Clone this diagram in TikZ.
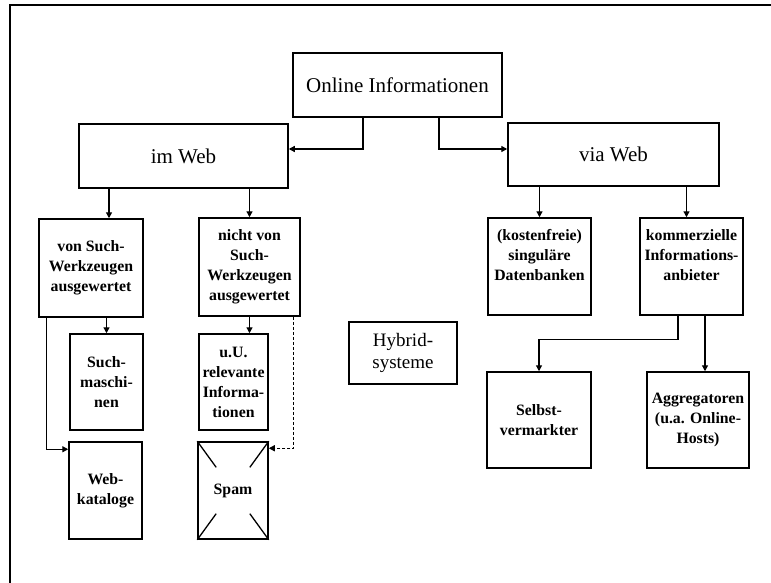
\documentclass[tikz,border=0pt]{standalone}
\usepackage{fontspec}
\setmainfont{Liberation Serif}
\usetikzlibrary{arrows.meta,calc}
\begin{document}
\begin{tikzpicture}[x=1pt,y=1pt,
  bx/.style={draw, line width=1.5pt, inner sep=0pt, align=center},
  big/.style={bx, font=\fontsize{21}{24}\selectfont},
  sm/.style={bx, font=\fontsize{15.8}{20}\selectfont\bfseries},
  arr/.style={line width=1.3pt, -{Triangle[length=6pt,width=6pt]}},
  frm/.style={line width=2pt}
]
\useasboundingbox (0,0) rectangle (771,-583);
\draw[frm] (771,-5) -- (10,-5) -- (10,-583);
% top level
\node[big, minimum width=209, minimum height=64] (oi) at (397.5,-85) {Online Informationen};
\node[big, minimum width=209, minimum height=64] (imw) at (183.5,-156) {im Web};
\node[big, minimum width=211, minimum height=63] (vw) at (613.5,-154.5) {via Web};
% second level
\node[sm, minimum width=104, minimum height=98] (vs) at (91,-268) {von Such-\\Werkzeugen\\ausgewertet};
\node[sm, minimum width=101, minimum height=98] (nv) at (249.5,-267) {nicht von\\Such-\\Werkzeugen\\ausgewertet};
\node[sm, minimum width=103, minimum height=97] (kf) at (539.5,-266.5) {(kostenfreie)\\singuläre\\Datenbanken\\[4pt]};
\node[sm, minimum width=103, minimum height=97] (ki) at (691.5,-266.5) {kommerzielle\\Informations-\\anbieter\\[2pt]};
% third level
\node[sm, minimum width=73, minimum height=96] (smn) at (106.5,-382) {Such-\\maschi-\\nen};
\node[sm, minimum width=69, minimum height=96] (uu) at (233.5,-382) {u.U.\\relevante\\Informa-\\tionen};
\node[bx, font=\fontsize{19}{22}\selectfont, minimum width=108, minimum height=62] (hy) at (403,-353) {Hybrid-\\systeme};
\node[sm, minimum width=104, minimum height=96] (sv) at (539,-420) {Selbst-\\vermarkter};
\node[sm, minimum width=102, minimum height=96] (ag) at (698,-420) {Aggregatoren\\(u.a. Online-\\Hosts)};
% fourth level
\node[sm, minimum width=73, minimum height=97] (wk) at (105.5,-490.5) {Web-\\kataloge};
\node[sm, minimum width=70, minimum height=97] (sp) at (233,-490.5) {Spam};
\draw[line width=1.3pt] (sp.north west) -- ($(sp.north west)!0.53!(sp.center)$);
\draw[line width=1.3pt] (sp.north east) -- ($(sp.north east)!0.53!(sp.center)$);
\draw[line width=1.3pt] (sp.south west) -- ($(sp.south west)!0.53!(sp.center)$);
\draw[line width=1.3pt] (sp.south east) -- ($(sp.south east)!0.53!(sp.center)$);
% connectors
\draw[arr] ([xshift=-34.5pt]oi.south) |- ([yshift=7pt]imw.east);
\draw[arr] ([xshift=41.5pt]oi.south) |- ([yshift=5.5pt]vw.west);
\coordinate (a1) at ([xshift=18pt]vs.north);
\draw[arr] (a1 |- imw.south) -- (a1);
\draw[arr] (nv.north |- imw.south) -- (nv.north);
\draw[arr] (smn.north |- vs.south) -- (smn.north);
\coordinate (a2) at ([xshift=8pt]vs.south west);
\draw[arr] (a2) |- ([yshift=-8pt]wk.north west);
\draw[arr] (nv.south) -- (nv.south |- uu.north);
\draw[arr, densely dashed] ([xshift=-7pt]nv.south east) |- ([yshift=-7pt]sp.north east);
\draw[arr] (kf.north |- vw.south) -- (kf.north);
\coordinate (a3) at ([xshift=-5pt]ki.north);
\draw[arr] (a3 |- vw.south) -- (a3);
\draw[arr] ([xshift=-13.5pt]ki.south) |- ([yshift=32pt]sv.north) -- (sv.north);
\coordinate (a4) at ([xshift=7pt]ag.north);
\draw[arr] (a4 |- ki.south) -- (a4);
\end{tikzpicture}
\end{document}
